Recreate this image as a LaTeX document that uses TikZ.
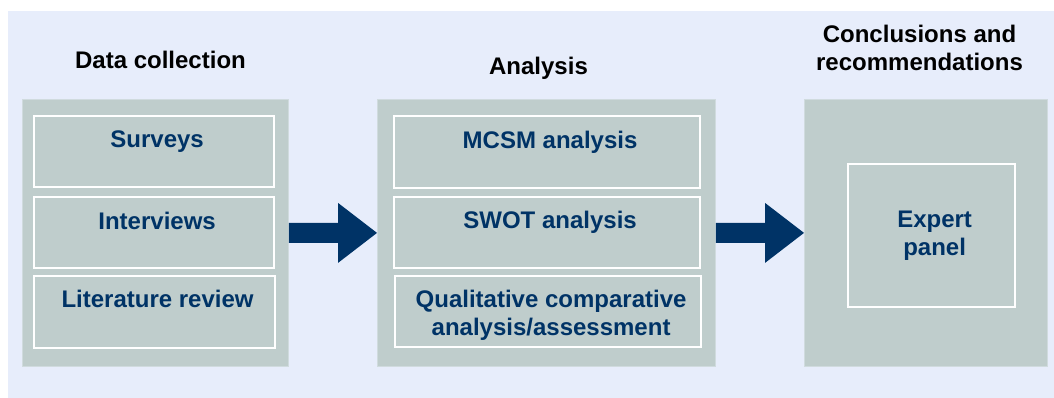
\documentclass[tikz,border=0pt]{standalone}
\usepackage{fontspec}
\setmainfont{Liberation Sans}
\usetikzlibrary{calc}
\definecolor{pagebg}{RGB}{231,237,251}
\definecolor{stagefill}{RGB}{191,205,204}
\definecolor{stageedge}{RGB}{208,219,222}
\definecolor{navy}{RGB}{0,51,102}
\tikzset{stage/.style={fill=stagefill,draw=stageedge,line width=.8pt,anchor=north west,inner sep=0},
 task/.style={draw=white,line width=2.2pt,anchor=north west,inner sep=0},
 tasktext/.style={text=navy,anchor=north,align=center,inner sep=0},
 heading/.style={anchor=north,align=center,inner sep=0},
 every node/.style={font=\bfseries\fontsize{24}{28}\selectfont}}
% block arrow from one stage to the next
\newcommand\blockarrow[2]{%
 \fill[navy] ($(#1)+(0,-10)$) -- ($(#2)+(-39,-10)$) -- ($(#2)+(-39,-30)$) -- (#2)
  -- ($(#2)+(-39,30)$) -- ($(#2)+(-39,10)$) -- ($(#1)+(0,10)$) -- cycle;}

\begin{document}
\begin{tikzpicture}[x=1pt,y=-1pt]
\useasboundingbox (0,0) rectangle (1054,398);
\fill[pagebg] (8,11) rectangle (1054,398);
% stages
\node[stage,minimum width=266,minimum height=267] (dcbox) at (22,99) {};
\node[stage,minimum width=338,minimum height=267] (anbox) at (377,99) {};
\node[stage,minimum width=243,minimum height=267] (crbox) at (804,99) {};
\node[heading] (dchead) at (160.5,50.7) {Data collection};
\node[heading] (anhead) at (538.5,56.7) {Analysis};
\node[heading] (crhead) at (919.5,24.7) {Conclusions and\\recommendations};
% data collection
\node[task,minimum width=240,minimum height=71] (surveys) at (33,115) {};
\node[task,minimum width=240,minimum height=71] (interviews) at (33,196) {};
\node[task,minimum width=241,minimum height=72] (litrev) at (33,275) {};
\node[tasktext] (surveys-t) at ($(surveys.north)+(3,15.5)$) {Surveys};
\node[tasktext] (interviews-t) at ($(interviews.north)+(3,16)$) {Interviews};
\node[tasktext] (litrev-t) at ($(litrev.north)+(3,15)$) {Literature review};
% analysis
\node[task,minimum width=306,minimum height=72] (mcsm) at (393,115) {};
\node[task,minimum width=306,minimum height=71] (swot) at (393,196) {};
\node[task,minimum width=306,minimum height=71] (qca) at (394,275) {};
\node[tasktext] (mcsm-t) at ($(mcsm.north)+(3,15.5)$) {MCSM analysis};
\node[tasktext] (swot-t) at ($(swot.north)+(3,15)$) {SWOT analysis};
\node[tasktext] (qca-t) at ($(qca.north)+(3,15)$) {Qualitative comparative\\analysis/assessment};
% conclusions
\node[task,minimum width=167,minimum height=143] (expert) at (847,163) {};
\node[tasktext,anchor=center] (expert-t) at ($(expert.center)+(3,0)$) {Expert\\panel};
\blockarrow{dcbox.east}{anbox.west}
\blockarrow{anbox.east}{crbox.west}
\end{tikzpicture}
\end{document}
